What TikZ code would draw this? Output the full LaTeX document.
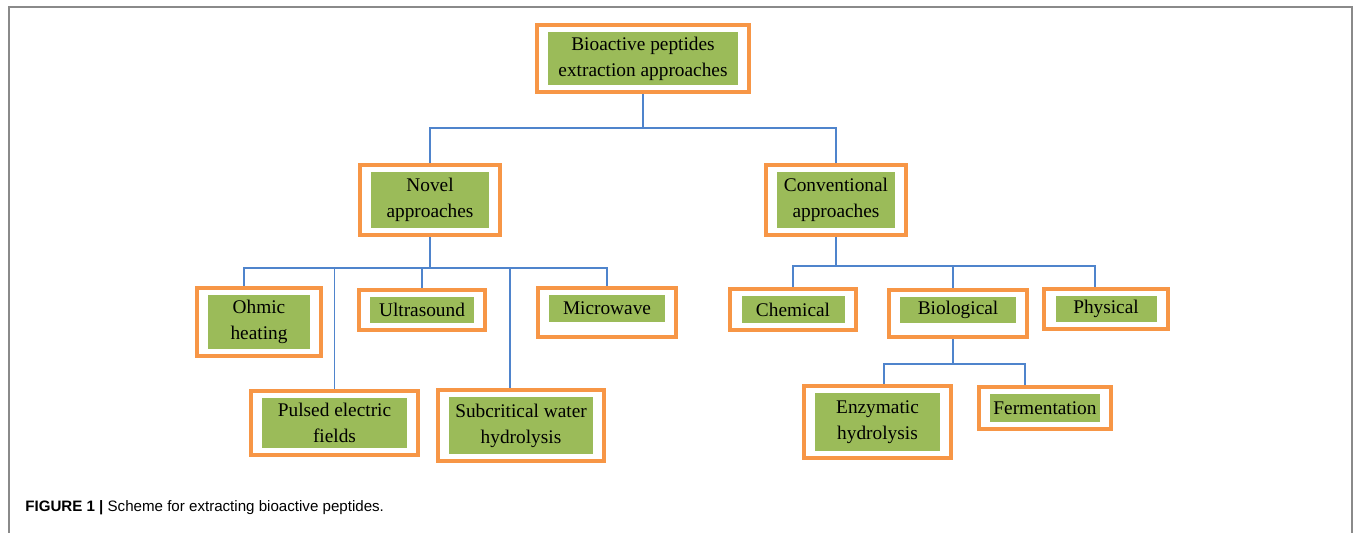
\documentclass[tikz,border=0pt]{standalone}
\usepackage{fontspec}
\setmainfont{Liberation Serif}
\newfontfamily\capfont{Liberation Sans}
\usetikzlibrary{fit}

\definecolor{boxgreen}{HTML}{9BBB59}
\definecolor{boxorange}{HTML}{F79646}
\definecolor{linkblue}{HTML}{4F84CC}
\definecolor{framegray}{HTML}{8A8A8A}

\newlength\pxu
\setlength\pxu{0.02cm}

\tikzset{
    inbox/.style={rectangle, fill=boxgreen, align=center, inner sep=0pt,
                  font=\fontsize{11}{14.7}\selectfont},
    frame/.style={rectangle, draw=boxorange, line width=4\pxu,
                  inner xsep=11\pxu, inner ysep=7\pxu},
    link/.style={draw=linkblue, line width=1.6\pxu},
}

\begin{document}
\begin{tikzpicture}[x=0.02cm, y=-0.02cm]
\useasboundingbox (0,0) rectangle (1359,533);
\draw[framegray, line width=2\pxu] (9,533) -- (9,7) -- (1352,7) -- (1352,533);

\begin{scope}[every node/.style={inbox}]
    \node (root) at (643, 58.5) [minimum width=190\pxu, minimum height=53\pxu] {Bioactive peptides\\extraction approaches};

    \node (novel) at (430, 200) [minimum width=118\pxu, minimum height=56\pxu] {Novel\\approaches};
    \node (conv) at (836, 200) [minimum width=118\pxu, minimum height=56\pxu] {Conventional\\approaches};

    \node (ohmic) at (259, 322) [minimum width=102\pxu, minimum height=54\pxu] {Ohmic\\heating};
    \node (ultra) at (422, 310) [minimum width=104\pxu, minimum height=26\pxu] {Ultrasound};
    \node (micro) at (607, 308.5) [minimum width=116\pxu, minimum height=27\pxu] {Microwave};
    \node (pulsed) at (334.5, 423) [minimum width=145\pxu, minimum height=50\pxu] {Pulsed electric\\fields};
    \node (subcrit) at (521, 425.5) [minimum width=144\pxu, minimum height=56\pxu] {Subcritical water\\hydrolysis};

    \node (chem) at (793, 309.5) [minimum width=103\pxu, minimum height=27\pxu] {Chemical};
    \node (bio) at (958, 310) [minimum width=116\pxu, minimum height=26\pxu] {Biological};
    \node (phys) at (1106, 309) [minimum width=101\pxu, minimum height=26\pxu] {Physical};

    \node (enzy) at (877.5, 422) [minimum width=125\pxu, minimum height=58\pxu] {Enzymatic\\hydrolysis};
    \node (ferm) at (1045, 408) [minimum width=110\pxu, minimum height=28\pxu] {Fermentation};
\end{scope}

% orange frames round the green boxes
\foreach \n in {root, novel, conv, ohmic, ultra, pulsed, subcrit, chem, phys, enzy, ferm}
    \node[frame, fit=(\n)] (\n f) {};
% these two leave more room below
\coordinate (microlow) at (607, 330);
\coordinate (biolow) at (958, 330);
\node[frame, fit=(micro)(microlow)] (microf) {};
\node[frame, fit=(bio)(biolow)] (biof) {};

\begin{scope}[every path/.style={link}]
    \draw (rootf.south) -- (rootf.south |- 0,128) -| (novelf.north);
    \draw (rootf.south |- 0,128) -| (convf.north);

    \draw (novelf.south) -- (novelf.south |- 0,268);
    \draw (novelf.south |- 0,268) -| (ohmicf.north -| 244,0);
    \draw (novelf.south |- 0,268) -| (pulsedf.north);
    \draw (novelf.south |- 0,268) -| (ultraf.north);
    \draw (novelf.south |- 0,268) -| (subcritf.north -| 510,0);
    \draw (novelf.south |- 0,268) -| (microf.north);

    \draw (convf.south) -- (convf.south |- 0,266);
    \draw (convf.south |- 0,266) -| (chemf.north);
    \draw (convf.south |- 0,266) -| (biof.north -| 953,0);
    \draw (convf.south |- 0,266) -| (physf.north -| 1095,0);

    \draw (biof.south -| 953,0) -- (953,364);
    \draw (953,364) -| (enzyf.north -| 884,0);
    \draw (953,364) -| (fermf.north -| 1025,0);
\end{scope}

\node[anchor=base west, inner sep=0pt, font=\capfont\fontsize{8.6}{10}\selectfont] (caption) at (25,511)
    {\textbf{FIGURE 1 |} Scheme for extracting bioactive peptides.};
\end{tikzpicture}
\end{document}
